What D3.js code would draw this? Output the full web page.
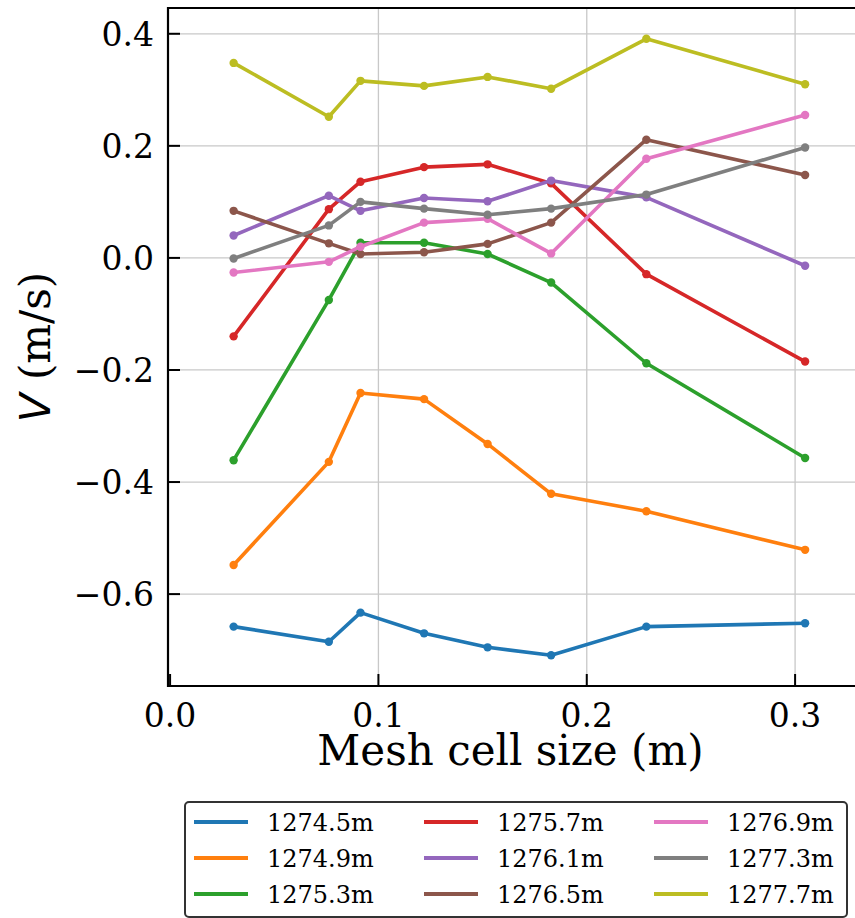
<!DOCTYPE html>
<html>
<head>
<meta charset="utf-8">
<script src="https://cdn.jsdelivr.net/npm/d3@7"></script>
<style>
  body { margin: 0; background: #fff; }
  svg { display: block; }
  .tick-label { font-family: "DejaVu Serif", serif; font-size: 33px; fill: #000; }
  .axis-title { font-family: "DejaVu Serif", serif; font-size: 42px; fill: #000; }
  .legend-label { font-family: "DejaVu Serif", serif; font-size: 24px; fill: #000; }
</style>
</head>
<body>
<svg id="chart" width="855" height="918"></svg>
<script>
// mesh cell sizes (m) - 0.1, 0.25, 0.3, 0.4, 0.5, 0.6, 0.75, 1.0 ft
const cellSizes = [0.0305, 0.0762, 0.0914, 0.1219, 0.1524, 0.1829, 0.2286, 0.3048];

const seriesNames = ["1274.5m", "1274.9m", "1275.3m", "1275.7m", "1276.1m",
                     "1276.5m", "1276.9m", "1277.3m", "1277.7m"];

const v1274_5 = [-0.658, -0.685, -0.633, -0.670, -0.695, -0.709, -0.658, -0.652];
const v1274_9 = [-0.548, -0.364, -0.241, -0.252, -0.332, -0.421, -0.452, -0.521];
const v1275_3 = [-0.361, -0.075, 0.027, 0.027, 0.007, -0.044, -0.188, -0.357];
const v1275_7 = [-0.140, 0.087, 0.136, 0.162, 0.167, 0.133, -0.029, -0.185];
const v1276_1 = [0.040, 0.111, 0.084, 0.107, 0.101, 0.138, 0.108, -0.014];
const v1276_5 = [0.084, 0.026, 0.007, 0.010, 0.025, 0.063, 0.211, 0.148];
const v1276_9 = [-0.026, -0.007, 0.020, 0.063, 0.070, 0.008, 0.177, 0.255];
const v1277_3 = [-0.001, 0.058, 0.100, 0.088, 0.077, 0.088, 0.113, 0.197];
const v1277_7 = [0.348, 0.252, 0.316, 0.307, 0.323, 0.302, 0.391, 0.310];

const allValues = [v1274_5, v1274_9, v1275_3, v1275_7, v1276_1,
                   v1276_5, v1276_9, v1277_3, v1277_7];

const xTicks = [0.0, 0.1, 0.2, 0.3];
const yTicks = [-0.6, -0.4, -0.2, 0.0, 0.2, 0.4];

const colors = d3.schemeCategory10;

const plot = { left: 168, top: 8, right: 857.6, bottom: 686 };

const svg = d3.select("#chart");

const x = d3.scaleLinear().domain([-0.001, 0.33]).range([plot.left, plot.right]);
const y = d3.scaleLinear().domain([-0.764, 0.446]).range([plot.bottom, plot.top]);

const fmt = d => d3.format(".1f")(d).replace("-", "\u2212");

// grid
const grid = svg.append("g").attr("stroke", "#c8c8c8").attr("stroke-width", 1.3);
grid.selectAll(".gx").data(xTicks.filter(d => d > 0)).join("line")
  .attr("x1", d => x(d)).attr("x2", d => x(d))
  .attr("y1", plot.top).attr("y2", plot.bottom);
grid.selectAll(".gy").data(yTicks).join("line")
  .attr("y1", d => y(d)).attr("y2", d => y(d))
  .attr("x1", plot.left).attr("x2", plot.right);

// series
const series = seriesNames.map((name, i) => ({
  name: name,
  color: colors[i],
  points: cellSizes.map((c, j) => ({ x: c, v: allValues[i][j] }))
}));

const line = d3.line().x(d => x(d.x)).y(d => y(d.v));

const lines = svg.append("g");
series.forEach(s => {
  const g = lines.append("g");
  g.append("path")
    .attr("d", line(s.points))
    .attr("fill", "none")
    .attr("stroke", s.color)
    .attr("stroke-width", 3.6)
    .attr("stroke-linejoin", "round");
  g.selectAll("circle").data(s.points).join("circle")
    .attr("cx", d => x(d.x))
    .attr("cy", d => y(d.v))
    .attr("r", 4.2)
    .attr("fill", s.color);
});

// spines
const spines = svg.append("g").attr("stroke", "#000").attr("stroke-width", 2.2).attr("fill", "none");
spines.append("line").attr("x1", plot.left).attr("x2", plot.left).attr("y1", plot.top - 1).attr("y2", plot.bottom + 1);
spines.append("line").attr("x1", plot.left).attr("x2", plot.right).attr("y1", plot.bottom).attr("y2", plot.bottom);
spines.append("line").attr("x1", plot.left).attr("x2", plot.right).attr("y1", plot.top).attr("y2", plot.top);

// ticks (inward)
const ticks = svg.append("g").attr("stroke", "#000").attr("stroke-width", 2);
ticks.selectAll(".tx").data(xTicks).join("line")
  .attr("x1", d => x(d)).attr("x2", d => x(d))
  .attr("y1", plot.bottom).attr("y2", plot.bottom - 12);
ticks.selectAll(".ty").data(yTicks).join("line")
  .attr("y1", d => y(d)).attr("y2", d => y(d))
  .attr("x1", plot.left).attr("x2", plot.left + 12);

// tick labels
svg.append("g").selectAll("text").data(xTicks).join("text")
  .attr("class", "tick-label")
  .attr("x", d => x(d))
  .attr("y", 727)
  .attr("text-anchor", "middle")
  .text(fmt);

svg.append("g").selectAll("text").data(yTicks).join("text")
  .attr("class", "tick-label")
  .attr("x", 154)
  .attr("y", d => y(d))
  .attr("dy", "0.36em")
  .attr("text-anchor", "end")
  .text(fmt);

// axis titles
svg.append("text")
  .attr("class", "axis-title")
  .attr("x", (plot.left + 857) / 2 - 2)
  .attr("y", 765)
  .attr("text-anchor", "middle")
  .text("Mesh cell size (m)");

const yTitle = svg.append("text")
  .attr("class", "axis-title")
  .attr("transform", `translate(50,${(plot.top + plot.bottom) / 2}) rotate(-90)`)
  .attr("text-anchor", "middle");
yTitle.append("tspan")
  .attr("font-family", "'DejaVu Sans', sans-serif")
  .attr("font-style", "italic")
  .text("V");
yTitle.append("tspan").text(" (m/s)");

// legend
const legend = svg.append("g");
legend.append("rect")
  .attr("x", 185).attr("y", 802)
  .attr("width", 662).attr("height", 115)
  .attr("rx", 4)
  .attr("fill", "#fff")
  .attr("stroke", "#333")
  .attr("stroke-width", 2);

const colX = [194, 424, 654];
const rowY = [822, 858, 894];
series.forEach((s, i) => {
  const cx = colX[Math.floor(i / 3)];
  const cy = rowY[i % 3];
  legend.append("line")
    .attr("x1", cx).attr("x2", cx + 54)
    .attr("y1", cy).attr("y2", cy)
    .attr("stroke", s.color)
    .attr("stroke-width", 4);
  legend.append("text")
    .attr("class", "legend-label")
    .attr("x", cx + 73)
    .attr("y", cy)
    .attr("dy", "0.36em")
    .text(s.name);
});
</script>
</body>
</html>
